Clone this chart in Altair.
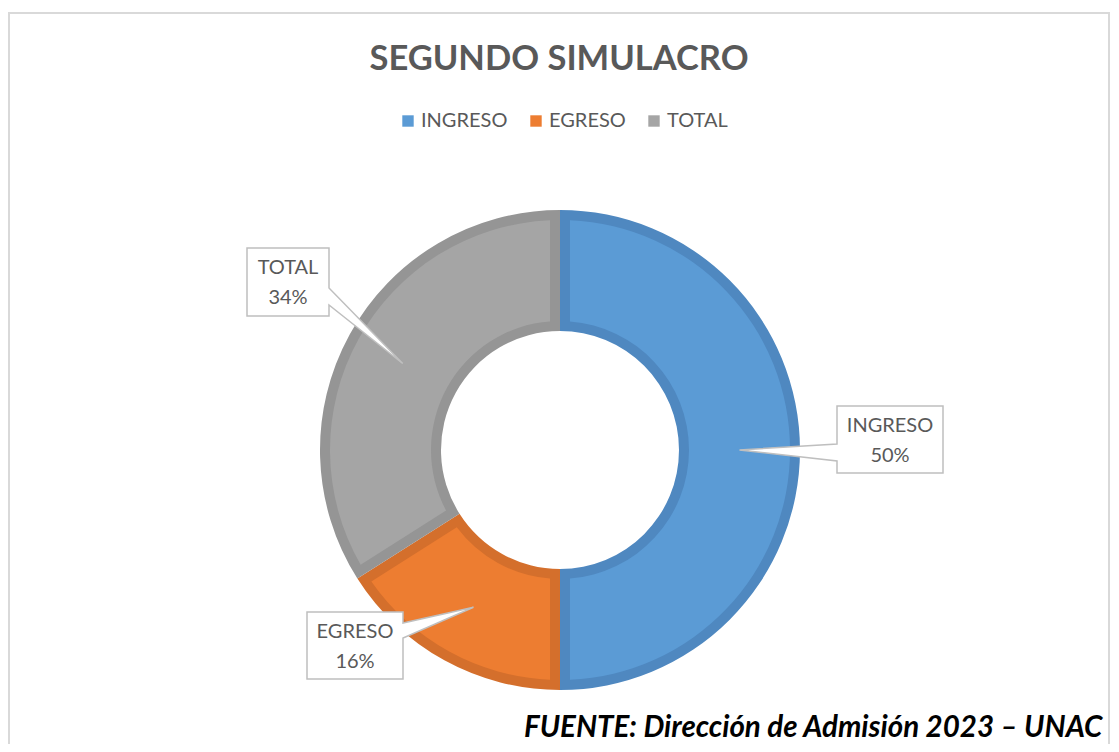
import math
import altair as alt
import pandas as pd

# ---------------- data ----------------
categories = ["INGRESO", "EGRESO", "TOTAL"]
percentages = [50, 16, 34]
fill_colors = ["#5b9bd5", "#ed7d31", "#a5a5a5"]
border_colors = ["#4f88c0", "#d46f2c", "#959595"]
title_text = "SEGUNDO SIMULACRO"
source_text = "FUENTE: Dirección de Admisión 2023 – UNAC"

df = pd.DataFrame({"cat": categories, "pct": percentages, "idx": list(range(len(categories)))})

# ---------------- layout ----------------
W, H = 1103, 736
M = 8                      # page margin (picture coords -> chart coords)
PCX, PCY = 560, 450        # donut centre in picture coords
CX, CY = PCX - M, PCY - M
R_OUT, R_IN, BORDER = 240, 119, 10
FONT = "Lato"
TXT = "#595959"

# callout boxes (picture coords): box=(x0,y0,x1,y1), pointer side, pointer base ys
CALLOUT = {
    "INGRESO": dict(box=(837, 406, 943, 473), side="left", base=(444, 461)),
    "EGRESO": dict(box=(307, 612, 403, 679), side="right", base=(623, 638)),
    "TOTAL": dict(box=(247, 248, 329, 316), side="right", base=(288, 305)),
}

base = alt.Chart(df)

dark = base.mark_arc(outerRadius=R_OUT, innerRadius=R_IN).encode(
    theta=alt.Theta("pct:Q", stack=True),
    order=alt.Order("idx:Q"),
    color=alt.Color("cat:N", scale=alt.Scale(domain=categories, range=border_colors), legend=None),
    x=alt.value(CX), y=alt.value(CY),
)

ri2, ro2 = R_IN + BORDER, R_OUT - BORDER
rp = math.sqrt(ri2 ** 2 + ro2 ** 2)
pad = 2 * math.asin(BORDER / rp)

light = base.mark_arc(outerRadius=ro2, innerRadius=ri2, padAngle=pad).encode(
    theta=alt.Theta("pct:Q", stack=True),
    order=alt.Order("idx:Q"),
    color=alt.Color(
        "cat:N",
        scale=alt.Scale(domain=categories, range=fill_colors),
        legend=alt.Legend(
            orient="none", direction="horizontal", legendX=390, legendY=103,
            title=None, symbolType="square", symbolSize=130, symbolStrokeWidth=0,
            labelFont=FONT, labelFontSize=20, labelColor=TXT, labelOffset=3,
            columnPadding=18, padding=0,
        ),
    ),
    x=alt.value(CX), y=alt.value(CY),
)

layers = [dark, light]

# callouts
total = sum(percentages)
start = 0.0
r_mid = (R_IN + R_OUT) / 2
for cat, pct in zip(categories, percentages):
    a_mid = 2 * math.pi * (start + pct / 2) / total
    start += pct
    tip = (PCX + r_mid * math.sin(a_mid), PCY - r_mid * math.cos(a_mid))
    c = CALLOUT[cat]
    x0, y0, x1, y1 = c["box"]
    b0, b1 = c["base"]
    bx, by = (x0 + x1) / 2, (y0 + y1) / 2
    if c["side"] == "right":
        pts = [(x0, y0), (x1, y0), (x1, b0), tip, (x1, b1), (x1, y1), (x0, y1)]
    else:
        pts = [(x0, y0), (x1, y0), (x1, y1), (x0, y1), (x0, b1), tip, (x0, b0)]
    d = "M" + " L".join(f"{px - bx:.1f},{py - by:.1f}" for px, py in pts) + " Z"
    box = alt.Chart(alt.Data(values=[{}])).mark_point(
        shape=d, size=4, filled=True, fill="white", stroke="#bfbfbf",
        strokeWidth=1.5, opacity=1,
    ).encode(x=alt.value(bx - M), y=alt.value(by - M))
    sel = base.transform_filter(alt.datum.cat == cat)
    t1 = sel.mark_text(font=FONT, fontSize=20, color=TXT, align="center", baseline="middle").encode(
        text="cat:N", x=alt.value(bx - M), y=alt.value(by - M - 14))
    t2 = sel.transform_calculate(lbl="datum.pct + '%'").mark_text(
        font=FONT, fontSize=20, color=TXT, align="center", baseline="middle").encode(
        text="lbl:N", x=alt.value(bx - M), y=alt.value(by - M + 16))
    layers += [box, t1, t2]

title = alt.Chart(alt.Data(values=[{"t": title_text}])).mark_text(
    font=FONT, fontSize=34.5, fontWeight="bold", color=TXT, align="center", baseline="alphabetic"
).encode(text="t:N", x=alt.value(551), y=alt.value(62))

source = alt.Chart(alt.Data(values=[{"t": source_text}])).mark_text(
    font=FONT, fontSize=29.5, fontWeight="bold", fontStyle="italic", color="black",
    align="left", baseline="alphabetic"
).encode(text="t:N", x=alt.value(516), y=alt.value(729))

frame = alt.Chart(alt.Data(values=[{}])).mark_rect(
    fill="white", stroke="#d9d9d9", strokeWidth=2
).encode(x=alt.value(1), x2=alt.value(1101), y=alt.value(5), y2=alt.value(760))

chart = alt.layer(frame, *layers, title, source).resolve_scale(color="independent").properties(
    width=W, height=H, autosize=alt.AutoSizeParams(type="none"), padding=0,
    background="white",
).configure_view(strokeWidth=0)

chart.save("out.html", embed_options={"renderer": "svg", "actions": False})
